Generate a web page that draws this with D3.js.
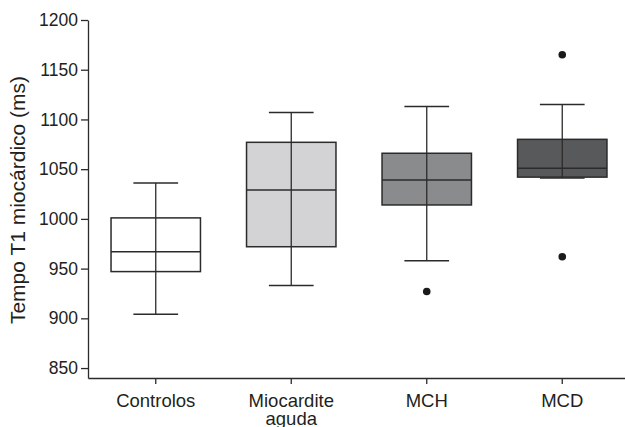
<!DOCTYPE html>
<html><head><meta charset="utf-8">
<script src="https://cdn.jsdelivr.net/npm/d3@7"></script>
<style>body{margin:0;background:#fff}svg{display:block}text{font-family:"Liberation Sans",Arial,sans-serif;fill:#231f20}</style>
</head><body><svg id="c" width="625" height="427"></svg>
<script>
const categories = [["Controlos"], ["Miocardite", "aguda"], ["MCH"], ["MCD"]];
const whiskerLow = [904, 933, 958, 1041];
const q1 = [947, 972, 1014, 1042];
const median = [967, 1029, 1039, 1051];
const q3 = [1001, 1077, 1066, 1080];
const whiskerHigh = [1036, 1107, 1113, 1115];
const outliers = [[], [], [927], [1165, 962]];
const fills = ["#ffffff", "#d3d3d5", "#8a8b8d", "#58595b"];
const yTicks = [850, 900, 950, 1000, 1050, 1100, 1150, 1200];

const svg = d3.select("#c");
const y = d3.scaleLinear().domain([840, 1200]).range([378, 20]);
const x = d3.scaleBand().domain(d3.range(categories.length)).range([88, 630]).padding(0);
const bw = x.bandwidth() * 0.66;
const cw = bw / 2;
const stroke = "#2b2b2b";

// axes
const ya = svg.append("g").attr("transform", "translate(88,0)")
  .call(d3.axisLeft(y).tickValues(yTicks).tickFormat(d3.format("d")).tickSize(7).tickPadding(3).tickSizeOuter(0));
ya.select(".domain").attr("stroke", stroke).attr("stroke-width", 1.3);
ya.selectAll(".tick line").attr("stroke", stroke).attr("stroke-width", 1.3);
ya.selectAll(".tick text").attr("font-size", 17.5).style("fill", "#231f20").attr("font-family", '"Liberation Sans",Arial,sans-serif');

const xa = svg.append("g").attr("transform", "translate(0,378)")
  .call(d3.axisBottom(x).tickSize(6).tickSizeOuter(0).tickFormat(() => ""));
xa.select(".domain").attr("stroke", stroke).attr("stroke-width", 1.3);
xa.selectAll(".tick line").attr("stroke", stroke).attr("stroke-width", 1.3);
xa.selectAll(".tick text").remove();
categories.forEach((lines, i) => {
  const t = svg.append("text").attr("x", x(i) + x.bandwidth() / 2).attr("y", 407)
    .attr("text-anchor", "middle").attr("font-size", 18.5);
  lines.forEach((l, j) => t.append("tspan").attr("x", x(i) + x.bandwidth() / 2).attr("dy", j ? 18 : 0).text(l));
});

svg.append("text").attr("transform", "translate(25,200) rotate(-90)")
  .attr("text-anchor", "middle").attr("font-size", 21).text("Tempo T1 miocárdico (ms)");

// boxes
const g = svg.append("g");
categories.forEach((c, i) => {
  const cx = x(i) + x.bandwidth() / 2;
  g.append("line").attr("x1", cx).attr("x2", cx).attr("y1", y(whiskerLow[i])).attr("y2", y(whiskerHigh[i]))
    .attr("stroke", stroke).attr("stroke-width", 1.3);
  g.append("rect").attr("x", cx - bw / 2).attr("width", bw).attr("y", y(q3[i])).attr("height", y(q1[i]) - y(q3[i]))
    .attr("fill", fills[i]).attr("stroke", stroke).attr("stroke-width", 1.5);
  g.append("line").attr("x1", cx).attr("x2", cx).attr("y1", y(q3[i])).attr("y2", y(q1[i]))
    .attr("stroke", stroke).attr("stroke-width", 1.3);
  g.append("line").attr("x1", cx - bw / 2).attr("x2", cx + bw / 2).attr("y1", y(median[i])).attr("y2", y(median[i]))
    .attr("stroke", stroke).attr("stroke-width", 1.5);
  [whiskerLow[i], whiskerHigh[i]].forEach(v => g.append("line").attr("x1", cx - cw / 2).attr("x2", cx + cw / 2)
    .attr("y1", y(v)).attr("y2", y(v)).attr("stroke", stroke).attr("stroke-width", 1.5));
  outliers[i].forEach(v => g.append("circle").attr("cx", cx).attr("cy", y(v)).attr("r", 3.8).attr("fill", "#1a1a1a"));
});
</script></body></html>
